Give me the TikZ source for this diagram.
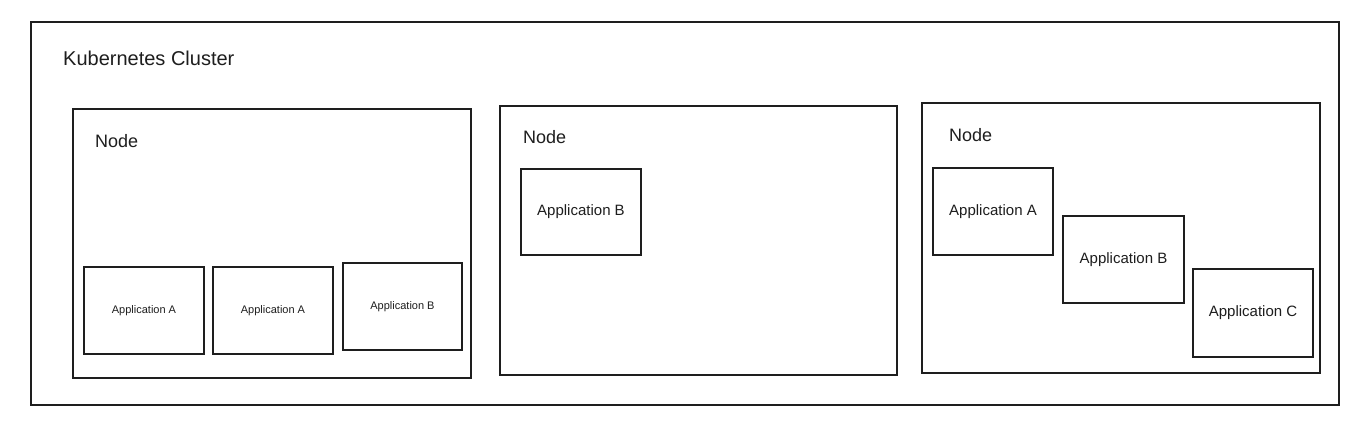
\documentclass[tikz,border=0pt]{standalone}
\usepackage{fontspec}
\setmainfont{Liberation Sans}
\definecolor{ink}{HTML}{1E1E1E}
\tikzset{
  frame/.style={draw=ink, line width=1.3pt, fill=white, anchor=north west, inner sep=0pt, outer sep=0pt},
  appbig/.style={frame, font=\fontsize{15}{18}\selectfont, text=ink},
  appsmall/.style={frame, font=\fontsize{11}{13}\selectfont, text=ink},
  lbl/.style={anchor=west, text=ink, inner sep=0pt},
}
\begin{document}
\begin{tikzpicture}[x=1pt,y=-1pt]
\useasboundingbox[fill=white] (0,0) rectangle (1361,435);
% cluster
\node[frame, minimum width=1308pt, minimum height=383pt] (cluster) at (31,22) {};
\node[lbl, font=\fontsize{20}{24}\selectfont] (clusterlbl) at (63,58) {Kubernetes Cluster};
% node 1
\node[frame, minimum width=398pt, minimum height=269pt] (n1) at (73,109) {};
\node[lbl, font=\fontsize{18}{22}\selectfont] (n1lbl) at (95,141) {Node};
\node[appsmall, minimum width=120pt, minimum height=87pt] (n1a1) at (84,267) {Application A};
\node[appsmall, minimum width=120pt, minimum height=87pt] (n1a2) at (213,267) {Application A};
\node[appsmall, minimum width=119pt, minimum height=87pt] (n1b) at (343,263) {Application B};
% node 2
\node[frame, minimum width=397pt, minimum height=269pt] (n2) at (500,106) {};
\node[lbl, font=\fontsize{18}{22}\selectfont] (n2lbl) at (523,137) {Node};
\node[appbig, minimum width=120pt, minimum height=86pt] (n2b) at (521,169) {Application B};
% node 3
\node[frame, minimum width=398pt, minimum height=270pt] (n3) at (922,103) {};
\node[lbl, font=\fontsize{18}{22}\selectfont] (n3lbl) at (949,135) {Node};
\node[appbig, minimum width=120pt, minimum height=87pt] (n3a) at (933,168) {Application A};
\node[appbig, minimum width=121pt, minimum height=87pt] (n3b) at (1063,216) {Application B};
\node[appbig, minimum width=120pt, minimum height=88pt] (n3c) at (1193,269) {Application C};
\end{tikzpicture}
\end{document}
